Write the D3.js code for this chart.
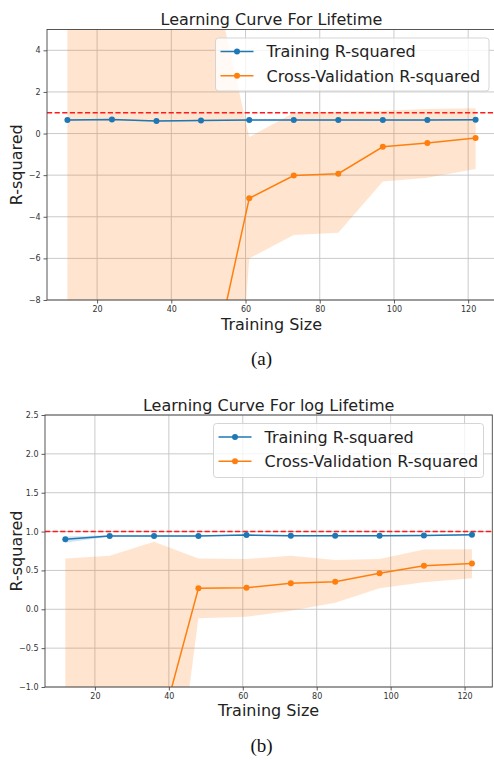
<!DOCTYPE html>
<html>
<head>
<meta charset="utf-8">
<script src="https://cdn.jsdelivr.net/npm/d3@7"></script>
<style>
  body { margin: 0; background: #fff; }
  svg { display: block; font-family: "DejaVu Sans", sans-serif; }
</style>
</head>
<body>
<div id="chart"></div>
<script>
// Training sizes (shared x values)
var sizes = [12, 24, 36, 48, 61, 73, 85, 97, 109, 122];
var xTicks = [20, 40, 60, 80, 100, 120];

// (a) Lifetime
var trainA   = [0.65, 0.67, 0.60, 0.63, 0.65, 0.65, 0.65, 0.65, 0.65, 0.66];
var trainLoA = [0.60, 0.64, 0.57, 0.60, 0.62, 0.62, 0.62, 0.62, 0.62, 0.63];
var trainHiA = [0.70, 0.70, 0.63, 0.66, 0.68, 0.68, 0.68, 0.68, 0.68, 0.69];
var cvA      = [-60, -35, -22, -13.7, -3.11, -2.02, -1.93, -0.64, -0.46, -0.22];
var cvLoA    = [-150, -90, -60, -37.6, -6.0, -4.88, -4.77, -2.3, -2.12, -1.7];
var cvHiA    = [30, 20, 16, 10.2, -0.17, 1.0, 1.05, 1.1, 1.18, 1.22];
var yTicksA  = [-8, -6, -4, -2, 0, 2, 4];

// (b) log Lifetime
var trainB   = [0.90, 0.944, 0.942, 0.943, 0.955, 0.945, 0.946, 0.947, 0.948, 0.958];
var trainLoB = [0.855, 0.935, 0.935, 0.936, 0.948, 0.938, 0.939, 0.94, 0.941, 0.951];
var trainHiB = [0.935, 0.953, 0.949, 0.950, 0.962, 0.952, 0.953, 0.954, 0.955, 0.965];
var cvB      = [-4.5, -3.0, -1.85, 0.27, 0.278, 0.335, 0.355, 0.463, 0.56, 0.59];
var cvLoB    = [-9.6, -6.7, -4.5, -0.115, -0.095, -0.02, 0.085, 0.27, 0.347, 0.40];
var cvHiB    = [0.653, 0.69, 0.87, 0.655, 0.647, 0.69, 0.634, 0.647, 0.77, 0.774];
var yTicksB  = [-1.0, -0.5, 0.0, 0.5, 1.0, 1.5, 2.0, 2.5];

var legendLabels = ["Training R-squared", "Cross-Validation R-squared"];
var blue = "#1f77b4", orange = "#ff7f0e";

var svg = d3.select("#chart").append("svg")
    .attr("width", 494)
    .attr("height", 760);

function drawPanel(p) {
    var x = d3.scaleLinear().domain([6.5, 127.5]).range([p.left, p.right]);
    var y = d3.scaleLinear().domain(p.yDomain).range([p.bottom, p.top]);
    var g = svg.append("g");

    g.append("clipPath").attr("id", p.id)
      .append("rect")
        .attr("x", p.left).attr("y", p.top)
        .attr("width", p.right - p.left).attr("height", p.bottom - p.top);

    // grid
    g.append("g").selectAll("line").data(xTicks).join("line")
        .attr("x1", d => x(d)).attr("x2", d => x(d))
        .attr("y1", p.top).attr("y2", p.bottom)
        .attr("stroke", "#c4c4c4").attr("stroke-width", 0.9);
    g.append("g").selectAll("line").data(p.yTicks).join("line")
        .attr("x1", p.left).attr("x2", p.right)
        .attr("y1", d => y(d)).attr("y2", d => y(d))
        .attr("stroke", "#c4c4c4").attr("stroke-width", 0.9);

    var plot = g.append("g").attr("clip-path", "url(#" + p.id + ")");
    var idx = d3.range(sizes.length);

    var band = (lo, hi) => d3.area()
        .x(i => x(sizes[i]))
        .y0(i => y(lo[i]))
        .y1(i => y(hi[i]));

    plot.append("path").attr("d", band(p.cvLo, p.cvHi)(idx))
        .attr("fill", orange).attr("fill-opacity", 0.2);
    plot.append("path").attr("d", band(p.trainLo, p.trainHi)(idx))
        .attr("fill", blue).attr("fill-opacity", 0.2);

    // perfect score reference
    plot.append("line")
        .attr("x1", p.left).attr("x2", p.right)
        .attr("y1", y(1)).attr("y2", y(1))
        .attr("stroke", "#ff1a1a").attr("stroke-width", 1.5)
        .attr("stroke-dasharray", "5.2,2.4");

    [[p.train, blue], [p.cv, orange]].forEach(function (s) {
        var line = d3.line().x(i => x(sizes[i])).y(i => y(s[0][i]));
        plot.append("path").attr("d", line(idx))
            .attr("fill", "none").attr("stroke", s[1]).attr("stroke-width", 1.5);
        plot.append("g").selectAll("circle").data(idx).join("circle")
            .attr("cx", i => x(sizes[i])).attr("cy", i => y(s[0][i]))
            .attr("r", 3).attr("fill", s[1]);
    });

    // axes
    var xa = g.append("g").attr("transform", "translate(0," + p.bottom + ")")
        .call(d3.axisBottom(x).tickValues(xTicks).tickSize(3.5).tickPadding(2.5));
    var ya = g.append("g").attr("transform", "translate(" + p.left + ",0)")
        .call(d3.axisLeft(y).tickValues(p.yTicks).tickFormat(p.yFormat).tickSize(3.5).tickPadding(3));
    [xa, ya].forEach(function (a) {
        a.select(".domain").remove();
        a.selectAll("line").attr("stroke", "#333").attr("stroke-width", 0.8);
        a.selectAll("text").attr("font-size", 8).attr("fill", "#333")
            .attr("font-family", "DejaVu Sans");
    });

    // frame
    g.append("rect")
        .attr("x", p.left).attr("y", p.top)
        .attr("width", p.right - p.left).attr("height", p.bottom - p.top)
        .attr("fill", "none").attr("stroke", "#444").attr("stroke-width", 0.9);

    // labels
    var cx = (p.left + p.right) / 2;
    g.append("text").attr("x", cx).attr("y", p.titleY)
        .attr("text-anchor", "middle").attr("font-size", 16).attr("fill", "#222")
        .text(p.title);
    g.append("text").attr("x", cx).attr("y", p.xLabelY)
        .attr("text-anchor", "middle").attr("font-size", 16).attr("fill", "#222")
        .text("Training Size");
    g.append("text")
        .attr("transform", "translate(22," + (p.top + p.bottom) / 2 + ") rotate(-90)")
        .attr("text-anchor", "middle").attr("font-size", 16).attr("fill", "#222")
        .text("R-squared");
    g.append("text").attr("x", 261.5).attr("y", p.captionY)
        .attr("text-anchor", "middle").attr("font-size", 19)
        .style("font-family", "'Liberation Serif', 'Times New Roman', serif")
        .attr("fill", "#111")
        .text(p.caption);

    // legend
    var L = p.legend;
    var lg = g.append("g");
    lg.append("rect").attr("x", L.x).attr("y", L.y)
        .attr("width", L.w).attr("height", L.h).attr("rx", 3)
        .attr("fill", "#fff").attr("fill-opacity", 0.8)
        .attr("stroke", "#d0d0d0").attr("stroke-width", 0.9);
    [blue, orange].forEach(function (c, k) {
        var ry = L.y + 13.5 + k * 24.3;
        lg.append("line").attr("x1", L.x + 5).attr("x2", L.x + 38)
            .attr("y1", ry).attr("y2", ry)
            .attr("stroke", c).attr("stroke-width", 1.5);
        lg.append("circle").attr("cx", L.x + 21.5).attr("cy", ry).attr("r", 3).attr("fill", c);
        lg.append("text").attr("x", L.x + 51).attr("y", ry + 5.8)
            .attr("font-size", 16).attr("fill", "#222")
            .text(legendLabels[k]);
    });
}

drawPanel({
    id: "clipA", left: 47, right: 496, top: 29.5, bottom: 300,
    yDomain: [-8, 5], yTicks: yTicksA, yFormat: d3.format("d"),
    train: trainA, trainLo: trainLoA, trainHi: trainHiA,
    cv: cvA, cvLo: cvLoA, cvHi: cvHiA,
    title: "Learning Curve For Lifetime", titleY: 25, xLabelY: 330,
    caption: "(a)", captionY: 364.5,
    legend: {x: 215.5, y: 38, w: 273.5, h: 53}
});

drawPanel({
    id: "clipB", left: 45, right: 492.3, top: 415, bottom: 687,
    yDomain: [-1, 2.5], yTicks: yTicksB, yFormat: d3.format(".1f"),
    train: trainB, trainLo: trainLoB, trainHi: trainHiB,
    cv: cvB, cvLo: cvLoB, cvHi: cvHiB,
    title: "Learning Curve For log Lifetime", titleY: 410.5, xLabelY: 716,
    caption: "(b)", captionY: 751.5,
    legend: {x: 213.5, y: 423.5, w: 270, h: 54}
});
</script>
</body>
</html>
